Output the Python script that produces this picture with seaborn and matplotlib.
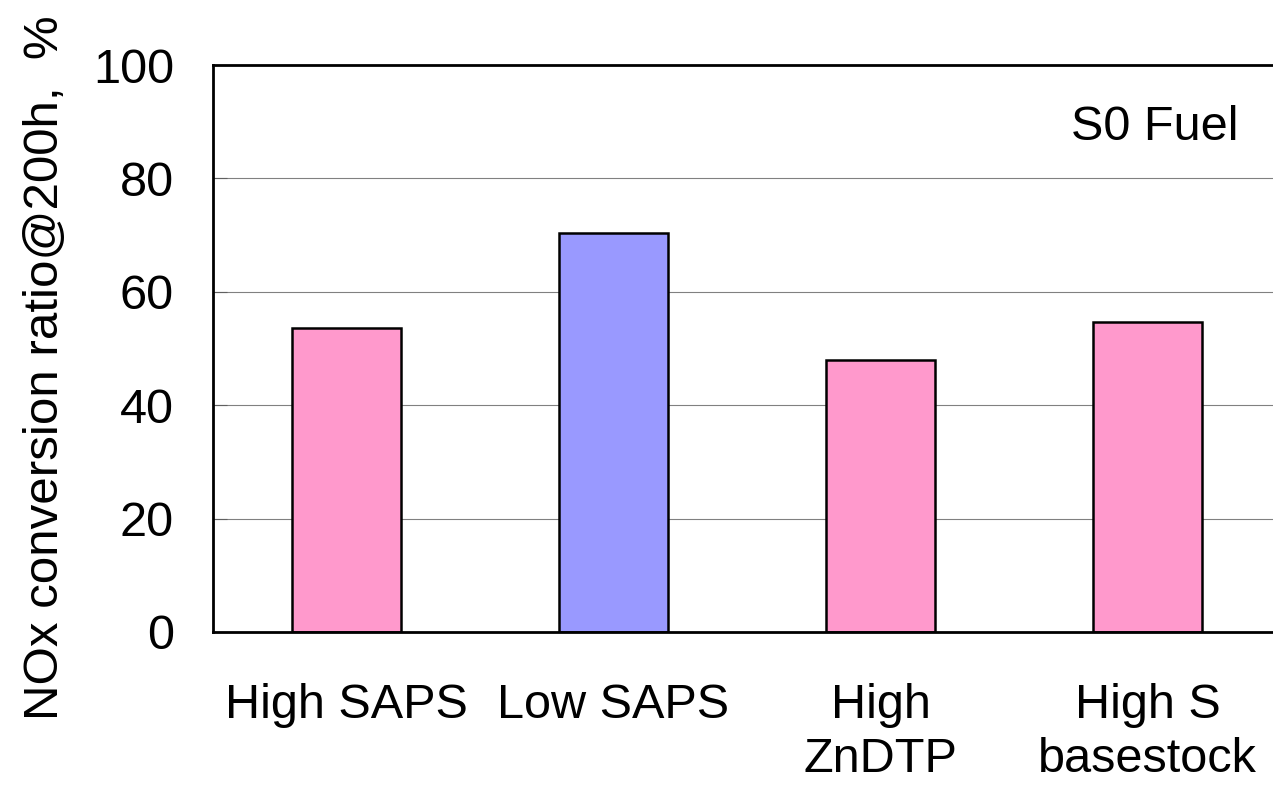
import numpy as np
import matplotlib
matplotlib.use("Agg")
import matplotlib.pyplot as plt
import seaborn as sns
import pandas as pd

categories = ["High SAPS", "Low SAPS", "High\nZnDTP", "High S\nbasestock"]
nox_conversion = [53.7, 70.4, 48.0, 54.6]
bar_colors = ["#FF99CC", "#9999FF", "#FF99CC", "#FF99CC"]
y_ticks = [0, 20, 40, 60, 80, 100]

sns.set_style("white")
plt.rcParams["font.family"] = ["Liberation Sans", "DejaVu Sans"]
plt.rcParams["text.color"] = "black"
plt.rcParams["xtick.labelcolor"] = "black"
plt.rcParams["ytick.labelcolor"] = "black"
plt.rcParams["axes.labelcolor"] = "black"

df = pd.DataFrame({"group": categories, "value": nox_conversion})

fig = plt.figure(figsize=(12.73, 7.89), dpi=100)
ax = fig.add_axes([0.1673, 0.199, 0.839, 0.7186])

sns.barplot(data=df, x="group", y="value", hue="group", palette=bar_colors,
            legend=False, width=0.41, edgecolor="black", linewidth=1.8,
            saturation=1, ax=ax)

ax.set_xlim(-0.5, 3.5)
ax.set_ylim(0, 100)
ax.set_yticks(y_ticks)
ax.yaxis.grid(True, color="#808080", linewidth=0.8)
ax.set_axisbelow(True)

for s in ax.spines.values():
    s.set_color("black")
    s.set_linewidth(2.0)

ax.set_xticks([0.5, 1.5, 2.5], minor=True)
ax.tick_params(axis="x", which="major", length=0, pad=37, labelsize=35)
ax.tick_params(axis="x", which="minor", direction="in", length=10, width=0.8, color="#606060")
ax.tick_params(axis="y", direction="in", length=10, width=0.8, color="#606060",
               pad=28, labelsize=35, left=True)
for lab in ax.get_xticklabels():
    lab.set_linespacing(1.25)
ax.set_xlabel("")
ax.set_ylabel("NOx conversion ratio@200h,  %", fontsize=35.5)
ax.yaxis.set_label_coords(-0.136, 0.467)

ax.text(0.96, 0.89, "S0 Fuel", transform=ax.transAxes, fontsize=35,
        ha="right", va="center")

fig.savefig("out.png", dpi=100)
